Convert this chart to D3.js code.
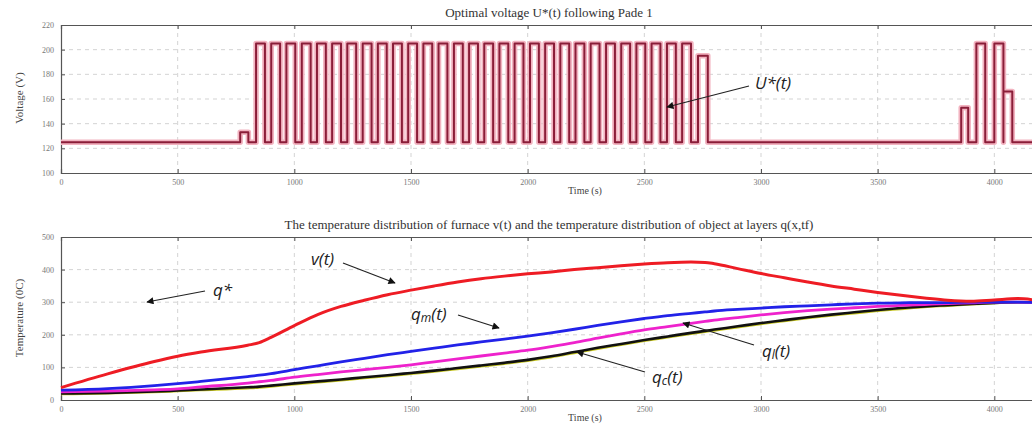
<!DOCTYPE html>
<html>
<head>
<meta charset="utf-8">
<script src="https://cdn.jsdelivr.net/npm/d3@7"></script>
<style>
  body { margin: 0; background: #fff; }
  text { font-family: "Liberation Serif", "DejaVu Serif", serif; }
  .note { font-family: "Open Sans", "Liberation Sans", sans-serif; font-style: italic; }
</style>
</head>
<body>
<svg id="chart" width="1032" height="429"></svg>
<script>
const svg = d3.select("#chart");

// tick values
const timeTicks = [0, 500, 1000, 1500, 2000, 2500, 3000, 3500, 4000];
const voltTicks = [100, 120, 140, 160, 180, 200, 220];
const tempTicks = [0, 100, 200, 300, 400, 500];

// voltage U*(t): base level plus pulses (start, end, level)
const baseVoltage = 125;
const pulseStart = [768, 836, 901, 966, 1032, 1097, 1162, 1227, 1293, 1358, 1423, 1488, 1553, 1618,
  1684, 1749, 1814, 1879, 1944, 2010, 2075, 2140, 2205, 2270, 2336, 2401, 2466, 2531, 2597, 2662,
  2730, 3858, 3923, 4000, 4039];
const pulseEnd = [803, 874, 939, 1004, 1070, 1135, 1200, 1265, 1331, 1396, 1461, 1526, 1591, 1656,
  1722, 1787, 1852, 1917, 1982, 2048, 2113, 2178, 2243, 2308, 2374, 2439, 2504, 2569, 2635, 2700,
  2772, 3888, 3961, 4039, 4077];
const pulseLevel = [133, 205, 205, 205, 205, 205, 205, 205, 205, 205, 205, 205, 205, 205,
  205, 205, 205, 205, 205, 205, 205, 205, 205, 205, 205, 205, 205, 205, 205, 205,
  195, 153, 205, 205, 166];

// temperatures
const sampleTime = [0, 200, 400, 500, 600, 800, 850, 900, 1000, 1100, 1200, 1300, 1400, 1500, 1600,
  1700, 1800, 1900, 2000, 2100, 2200, 2300, 2400, 2500, 2600, 2700, 2760, 2800, 2900, 3000, 3100,
  3200, 3300, 3400, 3500, 3600, 3700, 3800, 3900, 4000, 4100, 4200];
const furnaceV = [38, 80, 118, 134, 147, 168, 176, 192, 228, 262, 287, 306, 323, 337, 350,
  362, 372, 380, 387, 393, 400, 406, 412, 417, 421, 423, 422, 418, 403, 388, 375,
  362, 350, 340, 330, 321, 313, 306, 303, 307, 311, 304];
const layerQm = [30, 35, 44, 50, 57, 72, 76, 81, 93, 105, 117, 128, 139, 149, 159,
  169, 178, 187, 196, 206, 217, 229, 240, 250, 259, 266, 270, 273, 278, 282, 286,
  289, 292, 295, 297, 298, 299, 299, 300, 300, 300, 299];
const layerQl = [25, 27, 31, 34, 40, 52, 56, 60, 70, 78, 86, 93, 100, 108, 117,
  126, 135, 144, 153, 164, 176, 190, 203, 215, 225, 235, 241, 245, 253, 261, 268,
  274, 279, 283, 287, 290, 293, 296, 298, 300, 300, 299];
const layerQc = [20, 22, 26, 29, 32, 39, 41, 44, 51, 57, 63, 70, 76, 83, 90,
  98, 106, 114, 123, 134, 147, 160, 172, 184, 195, 206, 212, 216, 226, 236, 245,
  254, 262, 269, 276, 282, 287, 291, 295, 298, 300, 300];
const layerQstar = [17, 19, 23, 26, 29, 35, 37, 40, 47, 53, 59, 66, 72, 79, 86,
  94, 102, 110, 119, 130, 143, 156, 168, 180, 191, 202, 208, 212, 222, 232, 241,
  250, 258, 265, 272, 278, 284, 288, 292, 296, 299, 300];

const left = 61, right = 1041;
const x = d3.scaleLinear().domain([0, 4200]).range([left, right]);

function drawAxes(g, y, yTicks, top, bottom, title, ylabel, labelY) {
  // grid
  g.append("g").selectAll("line").data(timeTicks.slice(1)).join("line")
    .attr("x1", d => x(d)).attr("x2", d => x(d)).attr("y1", top).attr("y2", bottom)
    .attr("stroke", "#c8c8c8").attr("stroke-width", 0.8).attr("stroke-dasharray", "4,4");
  g.append("g").selectAll("line").data(yTicks.slice(1, -1)).join("line")
    .attr("x1", left).attr("x2", right).attr("y1", d => y(d)).attr("y2", d => y(d))
    .attr("stroke", "#c8c8c8").attr("stroke-width", 0.8).attr("stroke-dasharray", "4,4");

  const xAxis = g.append("g").attr("transform", `translate(0,${bottom})`)
    .call(d3.axisBottom(x).tickValues(timeTicks).tickSize(-4).tickPadding(6).tickFormat(d3.format("d")));
  const xTop = g.append("g").attr("transform", `translate(0,${top})`)
    .call(d3.axisTop(x).tickValues(timeTicks).tickSize(-4).tickFormat(""));
  const yAxis = g.append("g").attr("transform", `translate(${left},0)`)
    .call(d3.axisLeft(y).tickValues(yTicks).tickSize(-4).tickPadding(7).tickFormat(d3.format("d")));
  [xAxis, xTop, yAxis].forEach(a => {
    a.select(".domain").attr("stroke", "#555").attr("stroke-width", 1.2);
    a.selectAll(".tick line").attr("stroke", "#555");
    a.selectAll(".tick text").attr("fill", "#777").attr("font-size", 8)
      .attr("font-family", "Liberation Serif, serif");
  });

  g.append("text").attr("x", 549).attr("y", top - 8).attr("text-anchor", "middle")
    .attr("font-size", 13).attr("fill", "#333").text(title);
  g.append("text").attr("x", 585).attr("y", bottom + 21).attr("text-anchor", "middle")
    .attr("font-size", 10).attr("fill", "#444").text("Time (s)");
  g.append("text").attr("transform", `translate(23,${labelY}) rotate(-90)`)
    .attr("text-anchor", "middle").attr("font-size", 11).attr("fill", "#444").text(ylabel);
}

function arrow(g, x1, y1, x2, y2) {
  g.append("line").attr("x1", x1).attr("y1", y1).attr("x2", x2).attr("y2", y2)
    .attr("stroke", "#222").attr("stroke-width", 1.2).attr("marker-end", "url(#head)");
}

svg.append("defs").append("marker").attr("id", "head")
  .attr("viewBox", "0 0 10 10").attr("refX", 9).attr("refY", 5)
  .attr("markerWidth", 7).attr("markerHeight", 6).attr("orient", "auto")
  .append("path").attr("d", "M0,0 L10,5 L0,10 z").attr("fill", "#111");

// ---- top panel: voltage
const yU = d3.scaleLinear().domain([100, 220]).range([173, 25]);
const gTop = svg.append("g");
drawAxes(gTop, yU, voltTicks, 25, 173, "Optimal voltage U*(t) following Pade 1", "Voltage (V)", 98);

const uPoints = [[0, baseVoltage]];
pulseStart.forEach((s, i) => {
  uPoints.push([s, baseVoltage], [s, pulseLevel[i]], [pulseEnd[i], pulseLevel[i]], [pulseEnd[i], baseVoltage]);
});
uPoints.push([4200, baseVoltage]);

const uLine = d3.line().x(d => x(d[0])).y(d => yU(d[1]));
gTop.append("path").datum(uPoints).attr("d", uLine).attr("fill", "none")
  .attr("stroke", "#f2b3c0").attr("stroke-width", 5.5).attr("stroke-linejoin", "round");
gTop.append("path").datum(uPoints).attr("d", uLine).attr("fill", "none")
  .attr("stroke", "#8a1d38").attr("stroke-width", 2).attr("stroke-linejoin", "round");

gTop.append("text").attr("class", "note").attr("x", 755).attr("y", 89)
  .attr("font-size", 17).attr("fill", "#222").text("U*(t)");
arrow(gTop, 749, 86, 667, 107);

// ---- bottom panel: temperatures
const yT = d3.scaleLinear().domain([0, 500]).range([400, 237]);
const gBot = svg.append("g");
drawAxes(gBot, yT, tempTicks, 237, 400,
  "The temperature distribution of furnace v(t) and the temperature distribution of object at layers q(x,tf)",
  "Temperature (0C)", 318);

const series = [
  { v: layerQstar, color: "#c8c820", w: 1.6 },
  { v: layerQc, color: "#111111", w: 2.6 },
  { v: layerQl, color: "#ee22cc", w: 2.8 },
  { v: layerQm, color: "#2222e8", w: 2.8 },
  { v: furnaceV, color: "#ee1c24", w: 3 }
];
const tLine = d3.line().curve(d3.curveMonotoneX)
  .x((d, i) => x(sampleTime[i])).y(d => yT(d));
series.forEach(s => {
  gBot.append("path").datum(s.v).attr("d", tLine).attr("fill", "none")
    .attr("stroke", s.color).attr("stroke-width", s.w).attr("stroke-linejoin", "round");
});

function subLabel(g, px, py, sub) {
  const t = g.append("text").attr("class", "note").attr("x", px).attr("y", py)
    .attr("font-size", 17).attr("fill", "#222");
  t.append("tspan").text("q");
  if (sub) {
    t.append("tspan").attr("font-size", 12).attr("dy", 2).text(sub);
    t.append("tspan").attr("dy", -2).text("(t)");
  } else {
    t.append("tspan").text("*");
  }
}

subLabel(gBot, 213, 296, null);
arrow(gBot, 205, 291, 147, 302);
gBot.append("text").attr("class", "note").attr("x", 311).attr("y", 265)
  .attr("font-size", 17).attr("fill", "#222").text("v(t)");
arrow(gBot, 343, 263, 395, 283);
subLabel(gBot, 411, 320, "m");
arrow(gBot, 458, 315, 499, 328);
subLabel(gBot, 762, 357, "l");
arrow(gBot, 754, 345, 683, 323);
subLabel(gBot, 652, 383, "c");
arrow(gBot, 645, 372, 577, 352);
</script>
</body>
</html>
